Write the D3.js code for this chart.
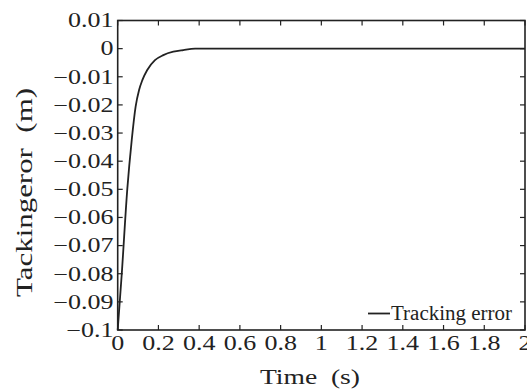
<!DOCTYPE html>
<html>
<head>
<meta charset="utf-8">
<script src="https://cdn.jsdelivr.net/npm/d3@7"></script>
<style>
  html, body { margin: 0; padding: 0; background: #fff; }
  svg { display: block; }
  text { font-family: "Liberation Serif", "Times New Roman", serif; fill: #222; }
</style>
</head>
<body>
<svg id="chart" width="527" height="389"></svg>
<script>
// ---- data ----
const timeValues  = [0, 0.02, 0.047, 0.069, 0.088, 0.105, 0.121, 0.145, 0.183, 0.224, 0.273, 0.322, 0.38, 0.6, 1.0, 1.5, 2.0];
const errorValues = [-0.1, -0.08, -0.05, -0.0324, -0.0206, -0.0147, -0.0112, -0.0076, -0.0041, -0.0023, -0.0011, -0.0005, 0, 0, 0, 0, 0];
const xTicks = [0, 0.2, 0.4, 0.6, 0.8, 1, 1.2, 1.4, 1.6, 1.8, 2];
const yTicks = [0.01, 0, -0.01, -0.02, -0.03, -0.04, -0.05, -0.06, -0.07, -0.08, -0.09, -0.1];
const seriesName = "Tracking error";
const xLabel = "Time  (s)";
const yLabel = "Tackingeror  (m)";

(function () {
  const svg = d3.select("#chart");
  const pL = 117.7, pR = 525, pT = 20.5, pB = 330;
  const x = d3.scaleLinear().domain([0, 2]).range([pL, pR]);
  const y = d3.scaleLinear().domain([-0.1, 0.01]).range([pB, pT]);
  const ink = "#222";
  const tickLen = 5;

  function fmt(v) {
    const s = String(+v.toFixed(2));
    return s.replace("-", "\u2212");
  }

  // frame
  svg.append("rect")
    .attr("x", pL).attr("y", pT)
    .attr("width", pR - pL).attr("height", pB - pT)
    .attr("fill", "none").attr("stroke", ink).attr("stroke-width", 1.6);

  // x ticks (bottom + top, inward)
  const xt = svg.append("g");
  xTicks.forEach(v => {
    xt.append("line").attr("x1", x(v)).attr("x2", x(v)).attr("y1", pB).attr("y2", pB - tickLen)
      .attr("stroke", ink).attr("stroke-width", 1.2);
    xt.append("line").attr("x1", x(v)).attr("x2", x(v)).attr("y1", pT).attr("y2", pT + tickLen)
      .attr("stroke", ink).attr("stroke-width", 1.2);
    xt.append("text")
      .attr("transform", `translate(${x(v)},350) scale(1.3,1)`)
      .attr("text-anchor", "middle")
      .attr("font-size", 20)
      .text(fmt(v));
  });

  // y ticks (left + right, inward)
  const yt = svg.append("g");
  yTicks.forEach(v => {
    yt.append("line").attr("x1", pL).attr("x2", pL + tickLen).attr("y1", y(v)).attr("y2", y(v))
      .attr("stroke", ink).attr("stroke-width", 1.2);
    yt.append("line").attr("x1", pR).attr("x2", pR - tickLen).attr("y1", y(v)).attr("y2", y(v))
      .attr("stroke", ink).attr("stroke-width", 1.2);
    yt.append("text")
      .attr("transform", `translate(113.5,${y(v) + 6.8}) scale(1.3,1)`)
      .attr("text-anchor", "end")
      .attr("font-size", 20)
      .text(fmt(v));
  });

  // curve
  const data = timeValues.map((t, i) => ({ t, e: errorValues[i] }));
  const line = d3.line().x(d => x(d.t)).y(d => y(d.e)).curve(d3.curveMonotoneX);
  svg.append("path")
    .datum(data)
    .attr("d", line)
    .attr("fill", "none")
    .attr("stroke", ink)
    .attr("stroke-width", 1.8);

  // axis labels
  svg.append("text")
    .attr("x", 310).attr("y", 384)
    .attr("text-anchor", "middle")
    .attr("font-size", 22)
    .attr("textLength", 100)
    .attr("lengthAdjust", "spacingAndGlyphs")
    .style("white-space", "pre")
    .text(xLabel);

  svg.append("text")
    .attr("transform", "translate(32,192.5) rotate(-90)")
    .attr("text-anchor", "middle")
    .attr("font-size", 24)
    .attr("textLength", 209)
    .attr("lengthAdjust", "spacingAndGlyphs")
    .style("white-space", "pre")
    .text(yLabel);

  // legend
  svg.append("line")
    .attr("x1", 368).attr("x2", 390).attr("y1", 313.5).attr("y2", 313.5)
    .attr("stroke", ink).attr("stroke-width", 1.8);
  svg.append("text")
    .attr("x", 391).attr("y", 320)
    .attr("font-size", 20)
    .attr("textLength", 121)
    .attr("lengthAdjust", "spacingAndGlyphs")
    .text(seriesName);
})();
</script>
</body>
</html>
